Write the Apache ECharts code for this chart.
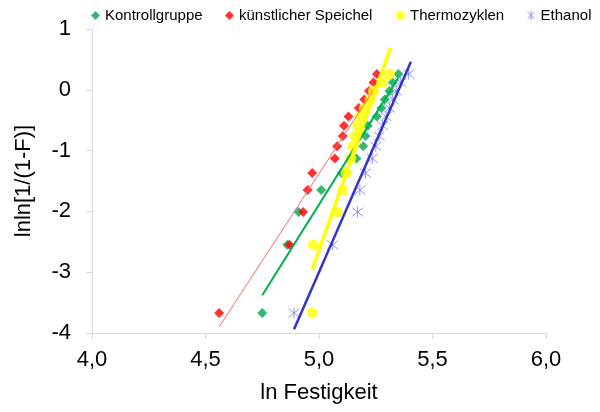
<!DOCTYPE html>
<html>
<head>
<meta charset="utf-8">
<script src="https://cdn.jsdelivr.net/npm/echarts@6/dist/echarts.min.js"></script>
<style>
  html, body { margin: 0; padding: 0; background: #fff; }
  #chart { width: 600px; height: 412px; }
</style>
</head>
<body>
<div id="chart"></div>
<script>
// rank positions lnln[1/(1-F)] (same for all groups)
const rankY = [-3.67, -2.55, -2.01, -1.65, -1.37, -1.13, -0.93, -0.76, -0.59, -0.44, -0.30, -0.16, -0.02, 0.12, 0.26];

// ln Festigkeit per group
const kontrollX = [4.75, 4.86, 4.91, 5.01, 5.10, 5.165, 5.195, 5.205, 5.215, 5.255, 5.275, 5.29, 5.31, 5.325, 5.35];
const speichelX = [4.56, 4.87, 4.93, 4.95, 4.97, 5.07, 5.08, 5.105, 5.11, 5.13, 5.175, 5.20, 5.22, 5.24, 5.255];
const thermoX = [4.97, 4.975, 5.08, 5.105, 5.12, 5.14, 5.15, 5.16, 5.17, 5.18, 5.20, 5.225, 5.24, 5.28, 5.31];
const ethanolX = [4.89, 5.06, 5.17, 5.18, 5.205, 5.235, 5.25, 5.265, 5.28, 5.295, 5.31, 5.325, 5.34, 5.36, 5.395];

// trend line end points [x, y]
const kontrollTrend = [[4.75, -3.38], [5.35, 0.20]];
const speichelTrend = [[4.56, -3.90], [5.255, 0.08]];
const thermoTrend = [[4.97, -2.96], [5.315, 0.69]];
const ethanolTrend = [[4.89, -3.94], [5.405, 0.46]];

const groupNames = ['Kontrollgruppe', 'künstlicher Speichel', 'Thermozyklen', 'Ethanol'];

const fontFamily = '"Liberation Sans", Arial, sans-serif';
const starPath = 'path://M1 1 L9 9 M1 9 L9 1 M5 0 L5 10';

const pairs = (xs) => xs.map((x, i) => [x, rankY[i]]);

const chart = echarts.init(document.getElementById('chart'));

const legendBase = {
  top: 8,
  padding: 0,
  itemWidth: 9,
  itemHeight: 9,
  itemGap: 5,
  textStyle: { fontFamily, fontSize: 15, color: '#000' }
};

const option = {
  animation: false,
  backgroundColor: '#fff',
  legend: [
    { ...legendBase, left: 91, data: [groupNames[0]] },
    { ...legendBase, left: 225, data: [groupNames[1]] },
    { ...legendBase, left: 396, data: [groupNames[2]] },
    {
      ...legendBase, left: 527, data: [groupNames[3]],
      icon: starPath,
      itemStyle: { color: 'transparent', borderColor: '#7b7bf0', borderWidth: 1 }
    }
  ],
  grid: {
    left: 92,
    right: 54,
    top: 29,
    bottom: 79
  },
  xAxis: {
    type: 'value',
    min: 4,
    max: 6,
    interval: 0.5,
    name: 'ln Festigkeit',
    nameLocation: 'middle',
    nameGap: 49,
    nameTextStyle: { fontFamily, fontSize: 22, color: '#000' },
    axisLine: { show: true, onZero: false, lineStyle: { color: '#d9d9d9', width: 1 } },
    axisTick: { show: true, length: 6, lineStyle: { color: '#d9d9d9' } },
    axisLabel: {
      margin: 16,
      fontFamily,
      fontSize: 22,
      color: '#000',
      formatter: (v) => v.toFixed(1).replace('.', ',')
    },
    splitLine: { show: false }
  },
  yAxis: {
    type: 'value',
    min: -4,
    max: 1,
    interval: 1,
    name: 'lnln[1/(1-F)]',
    nameLocation: 'middle',
    nameGap: 57,
    nameTextStyle: { fontFamily, fontSize: 22, color: '#000' },
    axisLine: { show: true, onZero: false, lineStyle: { color: '#d9d9d9', width: 1 } },
    axisTick: { show: true, length: 6, lineStyle: { color: '#d9d9d9' } },
    axisLabel: { margin: 21, fontFamily, fontSize: 22, color: '#000' },
    splitLine: { show: false }
  },
  series: [
    {
      name: groupNames[0],
      type: 'scatter',
      symbol: 'diamond',
      symbolSize: 10,
      itemStyle: { color: '#00a650' },
      data: pairs(kontrollX)
    },
    {
      name: groupNames[1],
      type: 'scatter',
      symbol: 'diamond',
      symbolSize: 10,
      itemStyle: { color: '#ff0000' },
      data: pairs(speichelX)
    },
    {
      name: groupNames[2],
      type: 'scatter',
      symbol: 'circle',
      symbolSize: 11,
      itemStyle: { color: '#ffff00' },
      data: pairs(thermoX)
    },
    {
      name: groupNames[3],
      type: 'scatter',
      symbol: starPath,
      symbolSize: 11,
      itemStyle: { color: 'transparent', borderColor: '#7b7bf0', borderWidth: 1 },
      data: pairs(ethanolX)
    },
    {
      name: 'Trend Kontrollgruppe',
      type: 'line',
      showSymbol: false,
      silent: true,
      lineStyle: { color: '#00b050', width: 2 },
      data: kontrollTrend
    },
    {
      name: 'Trend Speichel',
      type: 'line',
      showSymbol: false,
      silent: true,
      lineStyle: { color: '#ff6a6a', width: 1 },
      data: speichelTrend
    },
    {
      name: 'Trend Thermozyklen',
      type: 'line',
      showSymbol: false,
      silent: true,
      lineStyle: { color: '#ffff00', width: 3.5 },
      data: thermoTrend
    },
    {
      name: 'Trend Ethanol',
      type: 'line',
      showSymbol: false,
      silent: true,
      lineStyle: { color: '#3333cc', width: 2.5 },
      data: ethanolTrend
    }
  ]
};

chart.setOption(option);
</script>
</body>
</html>
